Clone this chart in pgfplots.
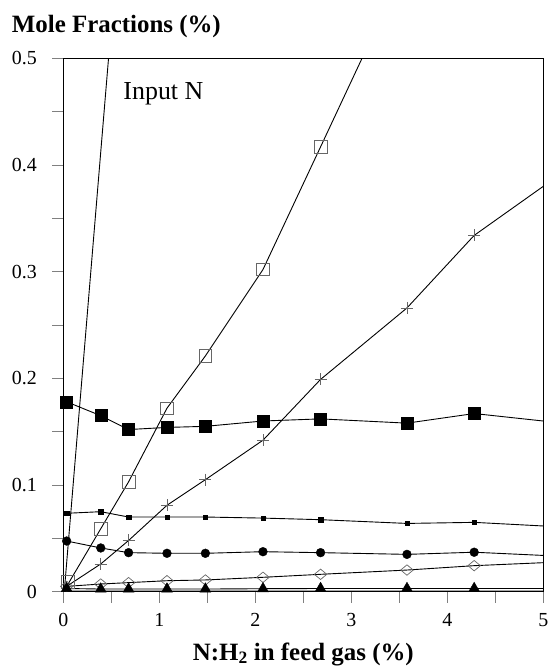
\documentclass[border=0pt]{standalone}
\usepackage{pgfplots}
\pgfplotsset{compat=1.18}
\usepackage{fontspec}
\setmainfont{Liberation Serif}
\begin{document}
\begin{tikzpicture}
\useasboundingbox (-63.3bp,-80.3bp) rectangle (486.7bp,591.7bp);
\begin{axis}[
  at={(0,0)}, anchor=south west, scale only axis,
  width=480bp, height=533.4bp,
  xmin=0, xmax=5, ymin=0, ymax=0.5,
  axis line style={line width=0.8bp},
  xtick={0,1,2,3,4,5}, minor xtick={0.5,1.5,2.5,3.5,4.5},
  ytick={0,0.1,0.2,0.3,0.4,0.5}, minor ytick={0.05,0.15,0.25,0.35,0.45},
  yticklabels={0,0.1,0.2,0.3,0.4,0.5},
  xtick pos=left, ytick pos=left, tick align=outside,
  major tick length=11bp, minor tick length=11bp,
  tick style={gray, line width=0.7bp},
  /pgf/number format/assume math mode=true,
  ticklabel style={font=\fontsize{20}{24}\selectfont},
  xticklabel shift=7bp, yticklabel shift=12bp,
  clip=true,
]
% Input N line
\addplot[black, line width=0.9bp, no marks] coordinates {(0.01,0.0) (0.40,0.423) (0.70,0.747)};
% gray bottom line
\addplot[gray!70, line width=1.6bp, no marks] coordinates {(0.035,0.001) (5,0.001)};
% open squares
\addplot[black, line width=0.9bp, no marks] coordinates {(0.035,0.005) (0.39,0.059) (0.68,0.103) (1.08,0.172) (1.48,0.221) (2.08,0.302) (2.68,0.417) (3.58,0.59)};
\addplot[only marks, mark=square, mark size=6.3bp, mark options={gray!80!black, line width=0.7bp}] coordinates {(0.046,0.009) (0.39,0.059) (0.68,0.103) (1.08,0.172) (1.48,0.221) (2.08,0.302) (2.68,0.417)};
% plus
\addplot[black, line width=0.9bp, no marks] coordinates {(0.035,0.005) (0.39,0.026) (0.68,0.048) (1.08,0.081) (1.48,0.105) (2.08,0.142) (2.68,0.199) (3.58,0.266) (4.28,0.334) (5,0.380)};
\addplot[only marks, mark=+, mark size=6bp, mark options={gray!80!black, line width=0.7bp}] coordinates {(0.39,0.026) (0.68,0.048) (1.08,0.081) (1.48,0.105) (2.08,0.142) (2.68,0.199) (3.58,0.266) (4.28,0.334)};
% diamonds
\addplot[black, line width=0.9bp, no marks] coordinates {(0.035,0.005) (0.39,0.0072) (0.68,0.0085) (1.08,0.0103) (1.48,0.011) (2.08,0.0135) (2.68,0.0163) (3.58,0.0203) (4.28,0.0244) (5,0.0272)};
\addplot[only marks, mark=diamond, mark size=5.2bp, mark options={gray!80!black, line width=0.7bp, xscale=1.6}] coordinates {(0.035,0.005) (0.39,0.0072) (0.68,0.0085) (1.08,0.0103) (1.48,0.011) (2.08,0.0135) (2.68,0.0163) (3.58,0.0203) (4.28,0.0244)};
% triangles
\addplot[black, line width=0.9bp, no marks] coordinates {(0.035,0.003) (0.39,0.0025) (0.68,0.0025) (1.08,0.0025) (1.48,0.0025) (2.08,0.0028) (2.68,0.003) (3.58,0.003) (4.28,0.003) (5,0.003)};
\addplot[only marks, mark=triangle*, mark size=6.3bp, mark options={black}] coordinates {(0.035,0.003) (0.39,0.0025) (0.68,0.0025) (1.08,0.0025) (1.48,0.0025) (2.08,0.0028) (2.68,0.003) (3.58,0.003) (4.28,0.003)};
% circles
\addplot[black, line width=0.9bp, no marks] coordinates {(0.035,0.0475) (0.39,0.041) (0.68,0.0366) (1.08,0.036) (1.48,0.036) (2.08,0.0375) (2.68,0.0366) (3.58,0.035) (4.28,0.037) (5,0.034)};
\addplot[only marks, mark=*, mark size=4.4bp, mark options={black}] coordinates {(0.035,0.0475) (0.39,0.041) (0.68,0.0366) (1.08,0.036) (1.48,0.036) (2.08,0.0375) (2.68,0.0366) (3.58,0.035) (4.28,0.037)};
% small squares
\addplot[black, line width=0.9bp, no marks] coordinates {(0.035,0.0735) (0.39,0.075) (0.68,0.070) (1.08,0.070) (1.48,0.070) (2.08,0.069) (2.68,0.0675) (3.58,0.064) (4.28,0.065) (5,0.0616)};
\addplot[only marks, mark=square*, mark size=2.2bp, mark options={black}] coordinates {(0.035,0.0735) (0.39,0.075) (0.68,0.070) (1.08,0.070) (1.48,0.070) (2.08,0.069) (2.68,0.0675) (3.58,0.064) (4.28,0.065)};
% big squares
\addplot[black, line width=0.9bp, no marks] coordinates {(0.035,0.178) (0.39,0.165) (0.68,0.152) (1.08,0.154) (1.48,0.155) (2.08,0.160) (2.68,0.162) (3.58,0.158) (4.28,0.167) (5,0.160)};
\addplot[only marks, mark=square*, mark size=6bp, mark options={black}] coordinates {(0.035,0.178) (0.39,0.165) (0.68,0.152) (1.08,0.154) (1.48,0.155) (2.08,0.160) (2.68,0.162) (3.58,0.158) (4.28,0.167)};
\node[anchor=base west, font=\fontsize{26}{31}\selectfont, inner sep=0pt] at (axis cs:0.625,0.461) {Input N};
\end{axis}
\node[anchor=base west, inner sep=0pt, font=\bfseries\fontsize{25}{30}\selectfont] at (-51.6bp,558.7bp) {Mole Fractions (\%)};
\node[anchor=base, inner sep=0pt, font=\bfseries\fontsize{25}{30}\selectfont] at (240bp,-68.5bp) {N:H\textsubscript{2} in feed gas (\%)};
\end{tikzpicture}
\end{document}
